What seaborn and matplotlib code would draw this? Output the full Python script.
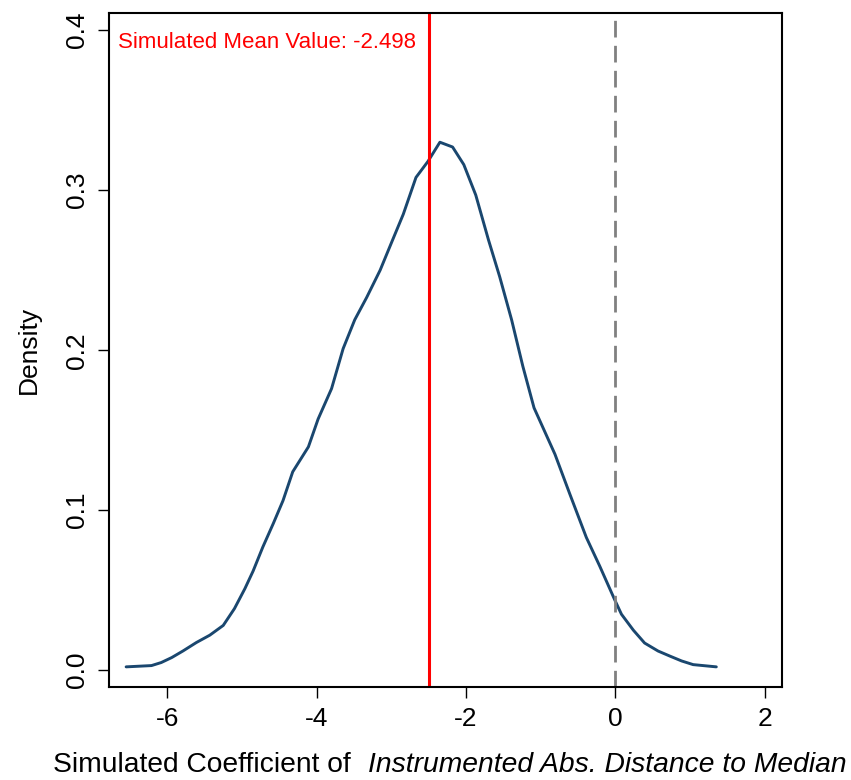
import matplotlib
matplotlib.use("Agg")
import matplotlib.pyplot as plt
import seaborn as sns
import pandas as pd

# Data
coef = [-6.55, -6.21, -6.08, -5.94, -5.79, -5.61, -5.43, -5.25, -5.10, -4.96,
        -4.85, -4.72, -4.58, -4.45, -4.32, -4.11, -3.98, -3.80, -3.645, -3.49,
        -3.33, -3.15, -3.00, -2.84, -2.67, -2.51, -2.35, -2.18, -2.03, -1.87,
        -1.70, -1.55, -1.39, -1.24, -1.09, -0.81, -0.61, -0.39, -0.21, -0.01,
        0.08, 0.24, 0.39, 0.57, 0.73, 0.885, 1.04, 1.35]
density = [0.0021, 0.0029, 0.0048, 0.0079, 0.0120, 0.0173, 0.0219, 0.0280, 0.0385, 0.0510,
           0.0620, 0.0770, 0.0917, 0.1060, 0.1240, 0.1396, 0.1570, 0.1760, 0.2010, 0.2190,
           0.2330, 0.2500, 0.2670, 0.2850, 0.3080, 0.3180, 0.3300, 0.3270, 0.3160, 0.2970,
           0.2690, 0.2460, 0.2190, 0.1900, 0.1640, 0.1350, 0.1100, 0.0830, 0.0650, 0.0440,
           0.0350, 0.0250, 0.0170, 0.0120, 0.0088, 0.0058, 0.0035, 0.0021]
mean_value = -2.498
ref_value = 0.0
xticks = [-6, -4, -2, 0, 2]
yticks = [0.0, 0.1, 0.2, 0.3, 0.4]
ytick_labels = ["0.0", "0.1", "0.2", "0.3", "0.4"]

sns.set_style("ticks")
plt.rcParams['font.family'] = ['Liberation Sans', 'DejaVu Sans']
plt.rcParams['text.color'] = 'black'
plt.rcParams['axes.labelcolor'] = 'black'
plt.rcParams['xtick.color'] = 'black'
plt.rcParams['ytick.color'] = 'black'

df = pd.DataFrame({"coef": coef, "density": density})

fig = plt.figure(figsize=(8.51, 7.80), dpi=100)
ax = fig.add_axes([0.128, 0.119, 0.791, 0.864])

sns.lineplot(data=df, x="coef", y="density", ax=ax, color="#1a476f", lw=2.1,
             sort=False, estimator=None)
ax.axvline(mean_value, color="#ff0000", lw=2.2)
ax.axvline(ref_value, color="#808080", lw=2.0, dashes=(6, 3))

ax.set_xlim(-6.78, 2.23)
ax.set_ylim(-0.0106, 0.4106)
ax.set_xticks(xticks)
ax.set_xticklabels([str(t) for t in xticks])
ax.set_yticks(yticks)
ax.set_yticklabels(ytick_labels, rotation=90, va="center")

ax.tick_params(axis="both", direction="out", length=8, width=1.0, color="black",
               labelcolor="black", labelsize=19, pad=6)
for s in ax.spines.values():
    s.set_color("black")
    s.set_linewidth(1.5)

ax.text(0.013, 0.957, "Simulated Mean Value: -2.498", transform=ax.transAxes,
        color="#ff0000", fontsize=16, ha="left", va="center")

ax.set_ylabel("Density", fontsize=19, labelpad=18, color="black")
ax.set_xlabel("")
fig.text(0.4125, 0.0195, "Simulated Coefficient of", fontsize=20.3, ha="right",
         va="center", color="black")
fig.text(0.4325, 0.0195, "Instrumented Abs. Distance to Median", fontsize=20.3,
         ha="left", va="center", style="italic", color="black")

fig.savefig("out.png", dpi=100)
